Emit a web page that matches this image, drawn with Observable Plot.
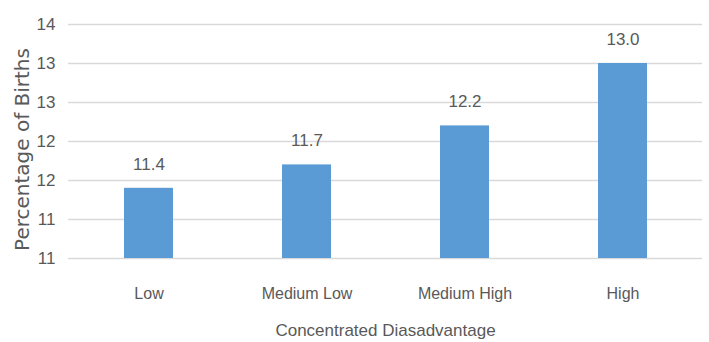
<!DOCTYPE html>
<html>
<head>
<meta charset="utf-8">
<script src="https://cdn.jsdelivr.net/npm/d3@7"></script>
<script src="https://cdn.jsdelivr.net/npm/@observablehq/plot@0.6"></script>
<style>
  html, body { margin: 0; padding: 0; background: #ffffff; }
  #chart svg { display: block; }
  g[aria-label="y-title"] text { letter-spacing: 1.7px; }
</style>
</head>
<body>
<div id="chart"></div>
<script>
// Share of births by level of concentrated disadvantage
const categories = ["Low", "Medium Low", "Medium High", "High"];
const values = [11.4, 11.7, 12.2, 13.0];

// Value axis: ticks every half point, labelled as whole numbers
const yTicks = [10.5, 11, 11.5, 12, 12.5, 13, 13.5];
const yTickLabels = ["11", "11", "12", "12", "13", "13", "14"];
const yDomain = [10.5, 13.5];

const xTitle = "Concentrated Diasadvantage";
const yTitle = "Percentage of Births";

const rows = categories.map((c, i) => ({category: c, value: values[i]}));

const textColor = "#595959";
const barColor = "#5b9bd5";
const gridColor = "#d9d9d9";
const sans = "'Liberation Sans', Arial, sans-serif";

const chart = Plot.plot({
  width: 709,
  height: 342,
  marginLeft: 68,
  marginRight: 7,
  marginTop: 24,
  marginBottom: 84,
  style: {fontFamily: sans, fontSize: "16px", color: textColor, background: "#ffffff"},
  x: {domain: categories, paddingInner: 0.69, paddingOuter: 0.345},
  y: {domain: yDomain},
  marks: [
    Plot.ruleY(yTicks, {stroke: gridColor, strokeWidth: 1.5}),
    Plot.barY(rows, {x: "category", y1: yDomain[0], y2: "value", fill: barColor}),
    Plot.text(rows, {
      x: "category", y: "value",
      text: d => d3.format(".1f")(d.value),
      dy: -24, fontSize: 17, fill: textColor
    }),
    Plot.axisY(yTicks, {
      tickSize: 0, tickPadding: 13, label: null,
      tickFormat: (d, i) => yTickLabels[i],
      fontSize: 17, fill: textColor
    }),
    Plot.axisX({
      tickSize: 0, tickPadding: 29, label: null,
      fontSize: 16, fill: textColor
    }),
    Plot.text([xTitle], {
      frameAnchor: "bottom", lineAnchor: "top", dy: 65,
      fontSize: 17, fill: textColor
    }),
    Plot.text([yTitle], {
      frameAnchor: "left", textAnchor: "middle", dx: -46, dy: 8, rotate: -90,
      fontFamily: "'DejaVu Sans', sans-serif", fontSize: 20,
      fill: textColor, ariaLabel: "y-title"
    })
  ]
});

document.getElementById("chart").appendChild(chart);
</script>
</body>
</html>
